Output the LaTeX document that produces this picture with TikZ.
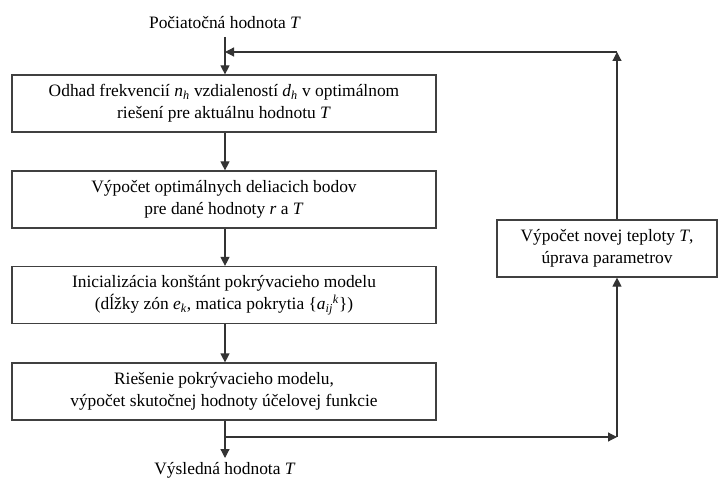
\documentclass[tikz,border=0pt]{standalone}
\usepackage{fontspec}
\setmainfont{Liberation Serif}
\usetikzlibrary{arrows.meta}
\newcommand{\iv}[1]{\textit{#1}}
\begin{document}
\begin{tikzpicture}[x=1pt,y=-1pt,
  box/.style={draw=black!75, line width=1.2pt, rectangle, minimum width=424pt, minimum height=57pt, align=center, inner sep=0pt, font=\fontsize{17.4}{22}\selectfont},
  rbox/.style={box, minimum width=220pt},
  lbl/.style={inner sep=0pt, font=\fontsize{17.4}{22}\selectfont},
  conn/.style={draw=black!80, line width=1.2pt},
  arr/.style={-{Triangle[length=9pt,width=9pt]}}]
\useasboundingbox (0,0) rectangle (718,484);
\node[lbl] (top) at (225,23) {Počiatočná hodnota \iv{T}};
\node[box] (b1) at (224,103.5) {Odhad frekvencií \iv{n}\textsubscript{\iv{h}} vzdialeností \iv{d}\textsubscript{\iv{h}} v optimálnom\\riešení pre aktuálnu hodnotu \iv{T}};
\node[box] (b2) at (224,199.5) {Výpočet optimálnych deliacich bodov\\pre dané hodnoty \iv{r} a \iv{T}};
\node[box] (b3) at (224,295) {Inicializácia konštánt pokrývacieho modelu\\(dĺžky zón \iv{e}\textsubscript{\iv{k}}, matica pokrytia \{\iv{a}\textsubscript{\iv{ij}}\textsuperscript{\iv{k}}\})};
\node[box] (b4) at (224,391.5) {Riešenie pokrývacieho modelu,\\výpočet skutočnej hodnoty účelovej funkcie};
\node[rbox] (rb) at (607,248.5) {Výpočet novej teploty \iv{T},\\úprava parametrov};
\node[lbl] (bot) at (225,470) {Výsledná hodnota \iv{T}};
\coordinate (s) at (225,37);
\coordinate (jt) at (225,52);
\coordinate (ct) at (617,52);
\coordinate (jb) at (225,437);
\coordinate (cb) at (617,437);
\coordinate (e) at (225,458);
\draw[conn,arr] (s) -- (s |- b1.north);
\draw[conn,arr] (s |- b1.south) -- (s |- b2.north);
\draw[conn,arr] (s |- b2.south) -- (s |- b3.north);
\draw[conn,arr] (s |- b3.south) -- (s |- b4.north);
\draw[conn,arr] (s |- b4.south) -- (e);
\draw[conn,arr] (jb) -- (cb);
\draw[conn,arr] (cb) -- (cb |- rb.south);
\draw[conn,arr] (cb |- rb.north) -- (ct);
\draw[conn,arr] (ct) -- (jt);
\end{tikzpicture}
\end{document}
